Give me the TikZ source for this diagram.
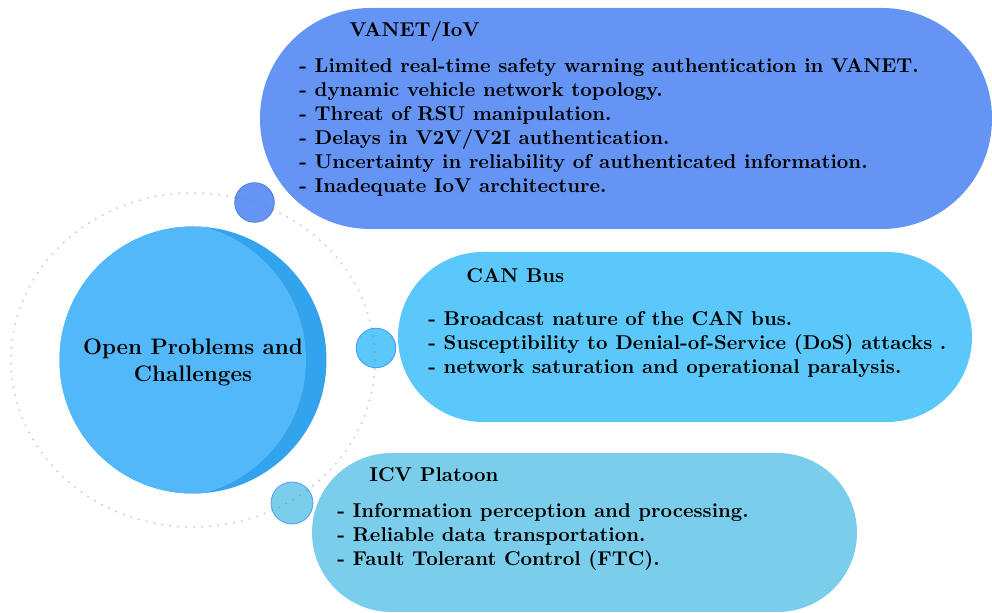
\documentclass[tikz,border=0pt]{standalone}
\usepackage{tikz}

\definecolor{vanetblue}{HTML}{6495F5}
\definecolor{canblue}{HTML}{5AC8FA}
\definecolor{icvblue}{HTML}{7ACEEB}
\definecolor{coreblue}{HTML}{52B8FA}
\definecolor{coredark}{HTML}{33A3ED}

\begin{document}
\begin{tikzpicture}[x=0.5pt,y=-0.5pt, font=\bfseries,
  panel/.style={rectangle, inner sep=0pt, draw=none},
  bubble/.style={circle, inner sep=0pt, minimum size=19.8pt, line width=0.4pt},
  ring/.style={draw=gray, draw opacity=0.4, line width=1.1pt, line cap=round, dash pattern=on 0pt off 4pt}]
\useasboundingbox (0,0) rectangle (992,613);

% small bubbles on the orbit
\node[bubble, fill=vanetblue, draw=vanetblue!85!black] (b1) at (254.5,202.5) {};
\node[bubble, fill=canblue, draw=canblue!75!blue] (b2) at (376,348) {};
\node[bubble, fill=icvblue, draw=icvblue!75!blue, minimum size=21pt] (b3) at (292,503) {};

% dotted orbit
\draw[ring] (193,360) ellipse [x radius=91pt, y radius=83.5pt];

% core circle with crescent
\fill[coredark] (193,360) circle (66.75pt);
\begin{scope}
\clip (193,360) circle (66.75pt);
\fill[coreblue] (168,360) circle (69pt);
\end{scope}
\node[align=center, font=\bfseries\fontsize{11.2}{13.5}\selectfont] (core) at (193,362) {Open Problems and\\Challenges};

% panels
\node[panel, fill=vanetblue, rounded corners=55pt, minimum width=366pt, minimum height=110.5pt] (vanet) at (626,118.5) {};
\node[panel, fill=canblue, rounded corners=42.5pt, minimum width=287pt, minimum height=85pt] (can) at (685,337) {};
\node[panel, fill=icvblue, rounded corners=39.75pt, minimum width=272.5pt, minimum height=79.5pt] (icv) at (584.5,532.5) {};

% VANET/IoV
\node[anchor=base west, inner sep=0pt] (vanet-t) at (349,37) {VANET/IoV};
\foreach \t [count=\i] in {- Limited real-time safety warning authentication in VANET.,
  - dynamic vehicle network topology.,
  - Threat of RSU manipulation.,
  - Delays in V2V/V2I authentication.,
  - Uncertainty in reliability of authenticated information.,
  - Inadequate IoV architecture.}
  \node[anchor=base west, inner sep=0pt] (vanet-\i) at (299,49+24*\i) {\t};

% CAN Bus
\node[anchor=base west, inner sep=0pt] (can-t) at (466,283) {CAN Bus};
\foreach \t [count=\i] in {- Broadcast nature of the CAN bus.,
  - Susceptibility to Denial-of-Service (DoS) attacks .,
  - network saturation and operational paralysis.}
  \node[anchor=base west, inner sep=0pt] (can-\i) at (428,302+24*\i) {\t};

% ICV Platoon
\node[anchor=base west, inner sep=0pt] (icv-t) at (369,482) {ICV Platoon};
\foreach \t [count=\i] in {- Information perception and processing.,
  - Reliable data transportation.,
  - Fault Tolerant Control (FTC).}
  \node[anchor=base west, inner sep=0pt] (icv-\i) at (337,494+24*\i) {\t};
\end{tikzpicture}
\end{document}
